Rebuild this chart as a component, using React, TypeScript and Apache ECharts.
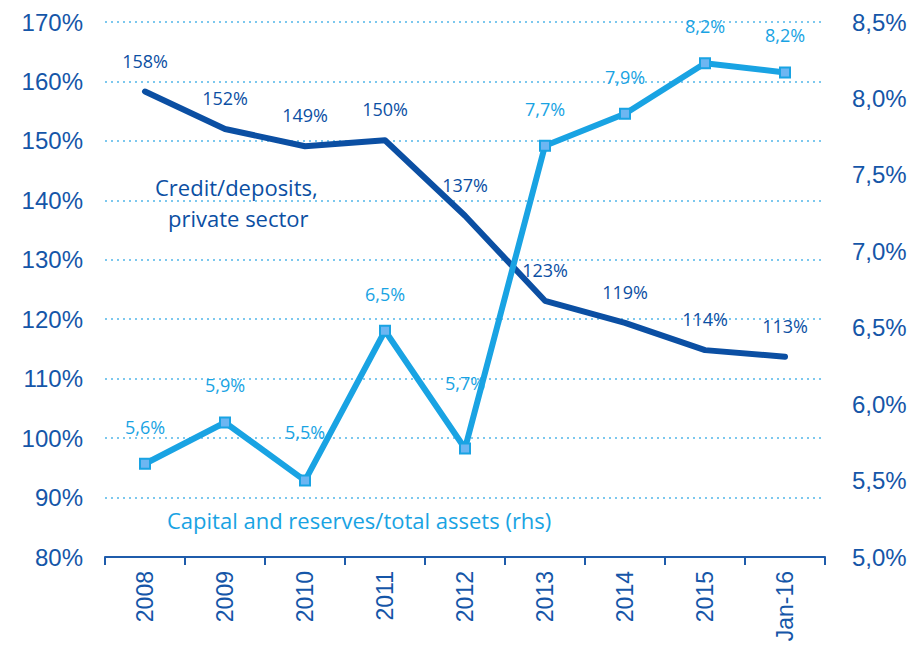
import React, { useEffect, useRef } from "react";
import * as echarts from "echarts";

const categories = ["2008", "2009", "2010", "2011", "2012", "2013", "2014", "2015", "Jan-16"];
const creditDeposits = [158.3, 152.0, 149.1, 150.1, 137.4, 123.1, 119.4, 114.8, 113.7];
const creditLabels = ["158%", "152%", "149%", "150%", "137%", "123%", "119%", "114%", "113%"];
const capitalReserves = [5.61, 5.88, 5.5, 6.48, 5.71, 7.69, 7.9, 8.23, 8.17];
const capitalLabels = ["5,6%", "5,9%", "5,5%", "6,5%", "5,7%", "7,7%", "7,9%", "8,2%", "8,2%"];
const leftTicks = { min: 80, max: 170, interval: 10 };
const rightTicks = { min: 5.0, max: 8.5, interval: 0.5 };

const DARK = "#0b4fa3";
const LIGHT = "#19a3e3";
const AXIS_TEXT = "#1556a8";
const labelFont = "'Open Sans', 'Noto Sans', sans-serif";
const axisFont = "'Liberation Sans', Arial, sans-serif";

export default function App() {
  const ref = useRef<HTMLDivElement>(null);
  useEffect(() => {
    if (!ref.current) return;
    const chart = echarts.init(ref.current, null, { renderer: "svg" });
    // extra lift for a couple of light-blue labels so they clear the line
    const capitalLift: Record<number, number> = { 2: 12, 4: 28 };
    const capitalData = capitalReserves.map((v, i) =>
      capitalLift[i] ? { value: v, label: { distance: 22 + capitalLift[i] } } : v
    );
    chart.setOption({
      animation: false,
      grid: { left: 105, right: 90, top: 22, bottom: 93, containLabel: false },
      xAxis: {
        type: "category",
        data: categories,
        boundaryGap: true,
        axisLine: { lineStyle: { color: "#1f5cab", width: 2 } },
        axisTick: { show: true, length: 8, lineStyle: { color: "#1f5cab", width: 2 } },
        axisLabel: {
          rotate: 90,
          margin: 14,
          color: AXIS_TEXT,
          fontSize: 23,
          fontFamily: axisFont,
        },
        splitLine: { show: false },
      },
      yAxis: [
        {
          type: "value",
          min: leftTicks.min,
          max: leftTicks.max,
          interval: leftTicks.interval,
          axisLine: { show: false },
          axisTick: { show: false },
          axisLabel: {
            color: AXIS_TEXT,
            fontSize: 24,
            margin: 22,
            fontFamily: axisFont,
            formatter: (v: number) => v + "%",
          },
          splitLine: {
            show: true,
            lineStyle: { color: "#7cc8ee", type: [2, 4], width: 2 },
          },
        },
        {
          type: "value",
          min: rightTicks.min,
          max: rightTicks.max,
          interval: rightTicks.interval,
          axisLine: { show: false },
          axisTick: { show: false },
          axisLabel: {
            color: AXIS_TEXT,
            fontSize: 24,
            margin: 27,
            fontFamily: axisFont,
            formatter: (v: number) => v.toFixed(1).replace(".", ",") + "%",
          },
          splitLine: { show: false },
        },
      ],
      series: [
        {
          type: "line",
          name: "Credit/deposits, private sector",
          data: creditDeposits,
          yAxisIndex: 0,
          showSymbol: true,
          symbol: "circle",
          symbolSize: 0.1,
          itemStyle: { color: DARK },
          lineStyle: { color: DARK, width: 6, cap: "round", join: "round" },
          label: {
            show: true,
            position: "top",
            distance: 22,
            color: DARK,
            fontSize: 18,
            fontFamily: labelFont,
            formatter: (p: any) => creditLabels[p.dataIndex],
          },
          z: 2,
        },
        {
          type: "line",
          name: "Capital and reserves/total assets (rhs)",
          data: capitalData,
          yAxisIndex: 1,
          symbol: "rect",
          symbolSize: 10,
          showAllSymbol: true,
          itemStyle: { color: "#6db6f2", borderColor: LIGHT, borderWidth: 2 },
          lineStyle: { color: LIGHT, width: 6, join: "round" },
          label: {
            show: true,
            position: "top",
            distance: 22,
            color: LIGHT,
            fontSize: 18,
            fontFamily: labelFont,
            formatter: (p: any) => capitalLabels[p.dataIndex],
          },
          z: 3,
        },
      ],
      graphic: [
        {
          type: "text",
          x: 155,
          y: 187,
          style: {
            text: "Credit/deposits,",
            fill: DARK,
            verticalAlign: "middle",
            font: "22px 'Open Sans', 'Noto Sans', sans-serif",
          },
        },
        {
          type: "text",
          x: 168,
          y: 218,
          style: {
            text: "private sector",
            fill: DARK,
            verticalAlign: "middle",
            font: "22px 'Open Sans', 'Noto Sans', sans-serif",
          },
        },
        {
          type: "text",
          x: 167,
          y: 520,
          style: {
            text: "Capital and reserves/total assets (rhs)",
            fill: LIGHT,
            verticalAlign: "middle",
            font: "22px 'Open Sans', 'Noto Sans', sans-serif",
          },
        },
      ],
    });
    return () => chart.dispose();
  }, []);
  return <div ref={ref} style={{ width: 915, height: 650, position: "absolute", left: 0, top: 0 }} />;
}
